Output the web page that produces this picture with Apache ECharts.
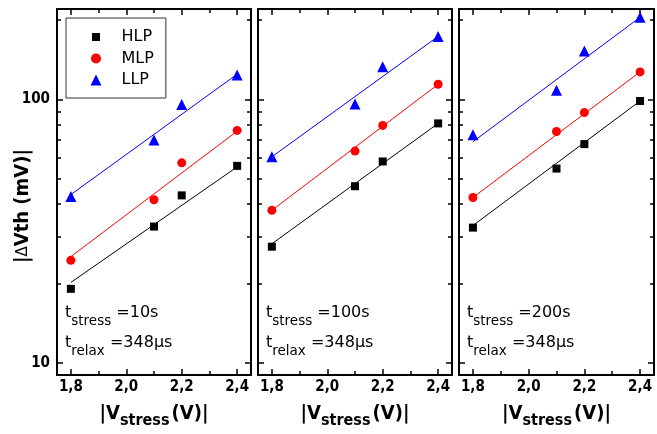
<!DOCTYPE html>
<html><head><meta charset="utf-8">
<script src="https://cdn.jsdelivr.net/npm/echarts@6/dist/echarts.min.js"></script>
<style>html,body{margin:0;padding:0;background:#fff}#c{width:657px;height:434px}</style>
</head><body><div id="c"></div>
<script>
// ---- data ----
const voltages = [1.8, 2.1, 2.2, 2.4];
const fitX = [1.8, 2.4];
const xMajorTicks = [1.8, 2.0, 2.2, 2.4];
const xMinorTicks = [1.9, 2.1, 2.3];
const yMajorTicks = [10, 100];
const yMinorTicks = [20, 30, 40, 50, 60, 70, 80, 90, 200];
const stressTimes = ['10s', '100s', '200s'];
const relaxTime = '348μs';
const seriesNames = ['HLP', 'MLP', 'LLP'];
// t_stress = 10 s
const hlp10 = [19.1, 32.9, 43.2, 55.9];
const mlp10 = [24.5, 41.6, 57.4, 76.2];
const llp10 = [42.8, 70.0, 95.5, 123.6];
const hlp10Fit = [20.2, 55.4];
const mlp10Fit = [25.3, 75.7];
const llp10Fit = [43.5, 124.5];
// t_stress = 100 s
const hlp100 = [27.6, 46.8, 58.1, 81.0];
const mlp100 = [37.9, 63.6, 79.6, 114.0];
const llp100 = [60.5, 96.0, 132.9, 173.2];
const hlp100Fit = [28.3, 81.0];
const mlp100Fit = [37.9, 114.0];
const llp100Fit = [60.5, 173.2];
// t_stress = 200 s
const hlp200 = [32.6, 54.6, 67.6, 98.5];
const mlp200 = [42.4, 75.5, 89.0, 127.0];
const llp200 = [73.4, 108.2, 152.3, 204.6];
const hlp200Fit = [33.2, 98.5];
const mlp200Fit = [42.4, 127.0];
const llp200Fit = [69.0, 204.6];

const panelData = [
  [hlp10, mlp10, llp10], [hlp100, mlp100, llp100], [hlp200, mlp200, llp200]
];
const panelFits = [
  [hlp10Fit, mlp10Fit, llp10Fit], [hlp100Fit, mlp100Fit, llp100Fit], [hlp200Fit, mlp200Fit, llp200Fit]
];

// ---- styles ----
const colors = ['#000000', '#ff0000', '#0000ff'];
const symbols = ['rect', 'circle', 'triangle'];
const symbolSizes = [8, 9, 11];
const legendIcons = ['path://M0 0M11 11M1.5 1.5L9.5 1.5L9.5 9.5L1.5 9.5Z', 'path://M0 0M11 11M10.5 5.5A5 5 0 1 1 0.5 5.5A5 5 0 1 1 10.5 5.5Z', 'triangle'];
const gridLefts = [57, 258, 459];
const gridWidths = [194, 194, 195];
const gridTop = 9, gridHeight = 366;
const boldFont = 'DejaVu Sans Condensed';
const regFont = 'DejaVu Sans';

const grids = [], xAxes = [], yAxes = [], series = [], titles = [];

function xAxis(g, pos, ticks, len, showLine, showLabel, withName) {
  const a = {
    type: 'value', gridIndex: g, position: pos, min: 1.75, max: 2.45,
    splitLine: { show: false },
    axisLine: { show: showLine, onZero: false, lineStyle: { color: '#000', width: 2 } },
    axisTick: { show: true, inside: true, length: len, customValues: ticks, lineStyle: { color: '#000', width: 1.5 } },
    axisLabel: { show: showLabel, customValues: xMajorTicks, margin: 5,
      formatter: v => v.toFixed(1).replace('.', ','),
      fontFamily: boldFont, fontWeight: 'bold', fontSize: 15, color: '#000' }
  };
  if (withName) {
    a.name = '{b||V}{s|stress}{c|(V)|}';
    a.nameLocation = 'middle';
    a.nameGap = 24;
    a.nameTextStyle = {
      rich: {
        b: { fontFamily: boldFont, fontWeight: 'bold', fontSize: 20, color: '#000' },
        s: { fontFamily: boldFont, fontWeight: 'bold', fontSize: 16, color: '#000', padding: [14, 0, 0, 0] },
        c: { fontFamily: boldFont, fontWeight: 'bold', fontSize: 20, color: '#000', padding: [0, 0, 0, 2] }
      }
    };
  }
  return a;
}
function yAxis(g, pos, ticks, len, showLine, showLabel) {
  return {
    type: 'log', logBase: 10, gridIndex: g, position: pos, min: 9, max: 220,
    splitLine: { show: false },
    axisLine: { show: showLine, onZero: false, lineStyle: { color: '#000', width: 2 } },
    axisTick: { show: true, inside: true, length: len, customValues: ticks, lineStyle: { color: '#000', width: 1.5 } },
    axisLabel: { show: showLabel, customValues: yMajorTicks, margin: 7,
      formatter: v => String(Math.round(v)),
      fontFamily: boldFont, fontWeight: 'bold', fontSize: 15, color: '#000' }
  };
}

for (let p = 0; p < 3; p++) {
  grids.push({ left: gridLefts[p], top: gridTop, width: gridWidths[p], height: gridHeight, containLabel: false });
  xAxes.push(xAxis(p, 'bottom', xMajorTicks, 6, true, true, true));
  xAxes.push(xAxis(p, 'bottom', xMinorTicks, 4, false, false, false));
  xAxes.push(xAxis(p, 'top', xMajorTicks, 6, true, false, false));
  xAxes.push(xAxis(p, 'top', xMinorTicks, 4, false, false, false));
  yAxes.push(yAxis(p, 'left', yMajorTicks, 6, true, p === 0));
  yAxes.push(yAxis(p, 'left', yMinorTicks, 4, false, false));
  yAxes.push(yAxis(p, 'right', yMajorTicks, 6, true, false));
  yAxes.push(yAxis(p, 'right', yMinorTicks, 4, false, false));
  for (let s = 0; s < 3; s++) {
    series.push({
      type: 'line', name: seriesNames[s] + ' fit', xAxisIndex: p * 4, yAxisIndex: p * 4,
      data: fitX.map((x, i) => [x, panelFits[p][s][i]]),
      symbol: 'none', silent: true, z: 2,
      lineStyle: { color: colors[s], width: 1 }, itemStyle: { color: colors[s] }
    });
  }
  for (let s = 0; s < 3; s++) {
    series.push({
      type: 'scatter', name: seriesNames[s], xAxisIndex: p * 4, yAxisIndex: p * 4,
      data: voltages.map((x, i) => [x, panelData[p][s][i]]),
      symbol: symbols[s], symbolSize: symbolSizes[s], z: 3,
      itemStyle: { color: colors[s], opacity: 1 }
    });
  }
  const rich = {
    t: { fontFamily: regFont, fontWeight: 'normal', fontSize: 16, color: '#000' },
    s: { fontFamily: regFont, fontWeight: 'normal', fontSize: 13.5, color: '#000', padding: [16, 0, 0, 0] }
  };
  titles.push({ left: gridLefts[p] + 8, top: 298, padding: 0,
    text: '{t|t}{s|stress}{t| =' + stressTimes[p] + '}', textStyle: { fontWeight: 'normal', rich } });
  titles.push({ left: gridLefts[p] + 8, top: 328, padding: 0,
    text: '{t|t}{s|relax}{t| =' + relaxTime + '}', textStyle: { fontWeight: 'normal', rich } });
}

const chart = echarts.init(document.getElementById('c'), null, { renderer: 'canvas' });
chart.setOption({
  animation: false,
  backgroundColor: '#fff',
  title: titles,
  grid: grids,
  xAxis: xAxes,
  yAxis: yAxes,
  legend: {
    data: seriesNames.map((n, i) => ({ name: n, icon: legendIcons[i] })),
    orient: 'vertical', left: 66, top: 18,
    itemWidth: 11, itemHeight: 11, itemGap: 5.5, padding: [11, 12, 10, 24.5],
    borderColor: '#333', borderWidth: 1,
    formatter: '{a|{name}}',
    textStyle: { fontFamily: regFont, fontSize: 16, color: '#000',
      rich: { a: { fontFamily: regFont, fontSize: 16, color: '#000', padding: [0, 0, 0, 15] } } }
  },
  graphic: [{
    type: 'text', x: 23, y: 206, rotation: Math.PI / 2,
    style: {
      text: '{b||}{d|Δ}{b|Vth (mV)|}', align: 'center', verticalAlign: 'middle',
      rich: {
        b: { fontFamily: boldFont, fontWeight: 'bold', fontSize: 20, fill: '#000' },
        d: { fontFamily: regFont, fontSize: 15, fill: '#000' }
      }
    }
  }],
  series: series
});
</script></body></html>
